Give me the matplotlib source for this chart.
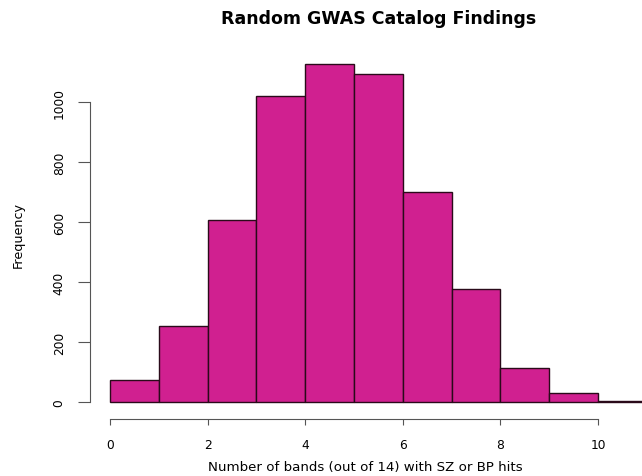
import numpy as np
from matplotlib import pyplot as plt

plt.rcParams['font.family'] = ['DejaVu Sans']

bin_edges = np.arange(0, 12)
counts = [73, 253, 607, 1020, 1127, 1093, 700, 377, 113, 30, 3]
bar_color = '#D02090'

fig = plt.figure(figsize=(6.42, 4.77), dpi=100)
ax = fig.add_axes([90/642, 57/477, 552/642, 370/477])

ax.bar(bin_edges[:-1], counts, width=1, align='edge',
       color=bar_color, edgecolor='#2a0a1a', linewidth=1.0)

ax.set_xlim(-0.41, 10.9)
ax.set_ylim(-56.7, 1177)

for s in ['top', 'right']:
  ax.spines[s].set_visible(False)
ax.spines['left'].set_bounds(0, 1000)
ax.spines['bottom'].set_bounds(0, 10)
ax.spines['left'].set_color('#555555')
ax.spines['bottom'].set_color('#555555')

ax.set_xticks(np.arange(0, 11, 2))
ax.set_yticks(np.arange(0, 1001, 200))
ax.tick_params(axis='both', width=0.8, color='#555555', labelsize=8.8)
ax.tick_params(axis='x', length=4.5, pad=9.5)
ax.tick_params(axis='y', length=8.5, pad=9)
for lab in ax.get_yticklabels():
  lab.set_rotation(90)
  lab.set_va('center')

fig.text(379/642, 1 - 19/477, 'Random GWAS Catalog Findings',
         ha='center', va='center', fontsize=12.5, fontweight='bold')
fig.text(365/642, 1 - 468/477, 'Number of bands (out of 14) with SZ or BP hits',
         ha='center', va='center', fontsize=9.6)
fig.text(18/642, 1 - 235/477, 'Frequency', ha='center', va='center',
         rotation=90, fontsize=9.2)

fig.savefig('out.png', dpi=100)
